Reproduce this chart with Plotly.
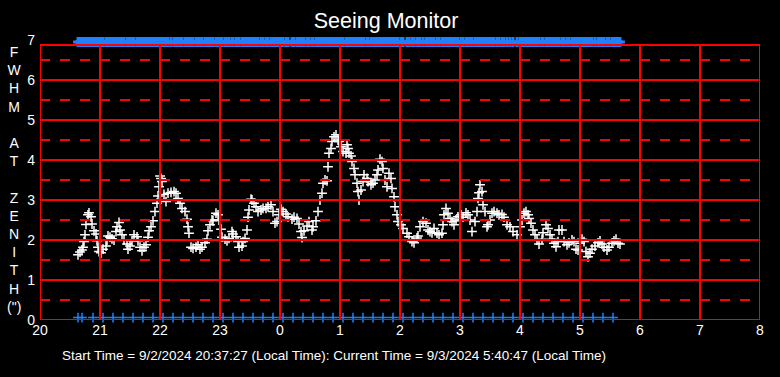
import plotly.graph_objects as go

# Minutes after 20:00 local time and FWHM values (arcsec)
minutes = [38, 40, 42, 43, 44, 45, 46, 48, 49, 51, 52, 54, 56, 57, 58, 59, 61, 63, 66, 67, 68, 70, 72, 74, 76, 77, 79, 80, 82, 84,
           87, 88, 90, 92, 94, 97, 98, 100, 102, 104, 106, 108, 109, 111, 113, 115, 117, 118, 119, 120, 121, 122, 124, 126, 128, 131, 134, 136, 138, 140,
           142, 145, 147, 148, 149, 151, 153, 156, 158, 160, 162, 165, 167, 168, 170, 172, 173, 176, 178, 179, 181, 182, 185, 187, 189, 192, 193, 196, 198, 199,
           202, 203, 205, 207, 208, 209, 211, 212, 214, 216, 218, 221, 223, 226, 228, 231, 233, 235, 237, 239, 241, 243, 246, 248, 252, 254, 257, 259, 261, 262,
           264, 267, 269, 272, 273, 276, 278, 280, 282, 283, 285, 287, 288, 289, 291, 292, 294, 296, 298, 299, 301, 303, 306, 307, 308, 309, 311, 312, 314, 315,
           317, 318, 319, 321, 323, 324, 327, 328, 331, 333, 335, 337, 338, 340, 342, 343, 345, 347, 349, 351, 352, 354, 355, 357, 358, 361, 363, 367, 369, 372,
           374, 377, 378, 380, 383, 386, 388, 390, 392, 394, 397, 399, 402, 403, 404, 406, 408, 410, 412, 414, 416, 418, 421, 423, 426, 428, 430, 432, 435, 437,
           438, 439, 440, 442, 443, 445, 447, 448, 450, 452, 454, 457, 459, 462, 464, 467, 470, 473, 477, 480, 482, 484, 486, 488, 489, 491, 493, 495, 497, 499,
           502, 503, 506, 508, 510, 512, 514, 516, 518, 519, 522, 524, 527, 529, 532, 534, 536, 538, 540, 542, 544, 546, 548, 550, 552, 555, 558, 560, 562, 564,
           567, 569, 572, 574, 576, 578, 580]
fwhm = [1.63, 1.70, 1.75, 1.82, 1.96, 2.13, 2.39, 2.63, 2.68, 2.58, 2.40, 2.23, 2.15, 1.98, 1.82, 1.71, 1.68, 1.77, 1.85, 2.00, 2.10, 2.07, 2.03, 2.00, 2.21, 2.33, 2.44, 2.25, 2.13, 2.00,
        1.90, 1.77, 1.85, 1.98, 2.13, 2.08, 1.98, 1.82, 1.73, 1.82, 1.88, 2.07, 2.23, 2.33, 2.48, 2.71, 2.92, 3.10, 3.33, 3.60, 3.54, 3.46, 3.14, 2.96, 3.17, 3.19, 3.21, 3.17, 3.04, 2.92,
        2.79, 2.71, 2.52, 2.33, 2.17, 1.82, 1.79, 1.82, 1.88, 1.77, 1.82, 1.93, 2.02, 2.23, 2.38, 2.50, 2.48, 2.67, 2.63, 2.50, 2.27, 2.07, 2.02, 1.98, 2.04, 2.21, 2.15, 2.08, 1.96, 1.82,
        1.85, 1.96, 2.04, 2.25, 2.57, 2.75, 3.02, 3.00, 2.92, 2.83, 2.71, 2.75, 2.79, 2.79, 2.83, 2.88, 2.71, 2.42, 2.46, 2.63, 2.77, 2.71, 2.65, 2.58, 2.52, 2.57, 2.54, 2.40, 2.21, 2.06,
        2.23, 2.35, 2.46, 2.25, 2.33, 2.48, 2.71, 3.00, 3.17, 3.42, 3.50, 3.48, 3.83, 4.17, 4.29, 4.46, 4.58, 4.63, 4.50, 4.46, 4.33, 4.21, 4.17, 4.38, 4.29, 4.17, 4.10, 3.96, 3.79, 3.63,
        3.42, 3.21, 3.00, 3.25, 3.46, 3.63, 3.54, 3.46, 3.38, 3.42, 3.50, 3.63, 3.75, 4.02, 3.96, 3.79, 3.50, 3.33, 3.67, 3.54, 3.29, 3.08, 2.83, 2.63, 2.46, 2.38, 2.29, 2.17, 2.08, 1.96,
        1.93, 2.05, 2.10, 2.33, 2.46, 2.42, 2.25, 2.21, 2.18, 2.29, 2.17, 2.13, 2.17, 2.38, 2.63, 2.79, 2.67, 2.54, 2.46, 2.38, 2.50, 2.58, 2.63, 2.57, 2.68, 2.63, 2.50, 2.21, 2.46, 2.71,
        3.04, 3.18, 3.38, 3.21, 2.88, 2.71, 2.33, 2.38, 2.50, 2.67, 2.71, 2.67, 2.63, 2.64, 2.57, 2.38, 2.33, 2.21, 2.13, 2.33, 2.50, 2.67, 2.71, 2.63, 2.54, 2.42, 2.25, 2.13, 2.00, 1.90,
        2.02, 2.18, 2.38, 2.29, 2.13, 2.02, 1.92, 1.83, 1.96, 2.25, 2.25, 1.96, 1.88, 1.93, 2.00, 1.96, 1.77, 1.75, 1.92, 2.02, 1.96, 1.71, 1.58, 1.67, 1.77, 1.85, 1.93, 1.98, 1.90, 1.82,
        1.75, 1.82, 1.92, 1.98, 2.02, 1.92, 1.90]

# Ten-minute status markers (minutes after 20:00)
status_minutes = [38, 42, 53, 63, 73, 83, 93, 103, 113, 123, 133, 143, 153, 163, 173, 183, 193, 203, 213, 223, 233, 243, 253, 263, 273,
                  283, 293, 303, 313, 323, 333, 343, 353, 363, 373, 383, 393, 403, 413, 423, 433, 443, 453, 463, 473, 483, 493, 503, 513, 523,
                  533, 543, 553, 563, 573]
top_level = 6.95
bottom_level = 0.06

tick_vals = [20, 21, 22, 23, 24, 25, 26, 27, 28, 29, 30, 31, 32]
tick_text = ["20", "21", "22", "23", "0", "1", "2", "3", "4", "5", "6", "7", "8"]
y_ticks = [0, 1, 2, 3, 4, 5, 6, 7]

hours = [20 + m / 60 for m in minutes]
status_hours = [20 + m / 60 for m in status_minutes]

RED = "#ff0000"
BLUE = "#1e82ff"
LW = 2
fig = go.Figure()

# grid shapes
shapes = []
frame_top = 6.875
for v in range(0, 7):
    shapes.append(dict(type="line", xref="x", yref="y", x0=20, x1=32, y0=v, y1=v, line=dict(color=RED, width=LW)))
shapes.append(dict(type="line", xref="x", yref="y", x0=20, x1=32, y0=frame_top, y1=frame_top, line=dict(color=RED, width=LW)))
for k in range(7):
    v = k + 0.5
    shapes.append(dict(type="line", xref="x", yref="y", x0=20, x1=32, y0=v, y1=v, line=dict(color=RED, width=LW, dash="10px,10px")))
for h in tick_vals:
    shapes.append(dict(type="line", xref="x", yref="y", x0=h, x1=h, y0=0, y1=frame_top, line=dict(color=RED, width=LW)))

fig.add_trace(go.Scatter(x=hours, y=[top_level] * len(hours), mode="markers",
                         marker=dict(symbol="cross-thin", size=7, line=dict(color=BLUE, width=3)),
                         hoverinfo="skip", cliponaxis=False))
fig.add_trace(go.Scatter(x=status_hours, y=[bottom_level] * len(status_hours), mode="markers",
                         marker=dict(symbol="cross-thin", size=7, line=dict(color=BLUE, width=1.5)),
                         hoverinfo="skip", cliponaxis=False))
fig.add_trace(go.Scatter(x=hours, y=fwhm, mode="markers",
                         marker=dict(symbol="cross-thin", size=7, line=dict(color="white", width=1.5))))

ylabel = "<br>".join(["F", "W", "H", "M", " ", "A", "T", " ", "Z", "E", "N", "I", "T", "H", "(\")"])

fig.update_layout(
    width=780, height=377,
    paper_bgcolor="black", plot_bgcolor="black",
    margin=dict(l=40, r=20, t=40, b=57),
    showlegend=False,
    font=dict(family="Liberation Sans, Arial", color="white", size=14),
    title=dict(text="Seeing Monitor", x=0.495, xanchor="center", y=0.945, yanchor="middle",
               font=dict(size=21.5, color="white", family="Liberation Sans, Arial")),
    xaxis=dict(range=[20, 32], tickvals=tick_vals, ticktext=tick_text, showgrid=False, zeroline=False,
               showline=False, ticks="", tickfont=dict(size=14, color="white")),
    yaxis=dict(range=[0, 7], tickvals=y_ticks, showgrid=False, zeroline=False, showline=False, ticks="",
               tickfont=dict(size=14, color="white"), ticklabelstandoff=4),
    shapes=shapes,
    annotations=[
        dict(text=ylabel, xref="paper", yref="paper", x=-0.035, y=0.5, xanchor="center", yanchor="middle",
             showarrow=False, font=dict(size=14, color="white"), align="center", yshift=1),
        dict(text="Start Time = 9/2/2024 20:37:27 (Local Time): Current Time = 9/3/2024 5:40:47 (Local Time)",
             xref="paper", yref="paper", x=0.408, y=0, yshift=-35, xanchor="center", yanchor="middle",
             showarrow=False, font=dict(size=13.5, color="white")),
    ],
)

fig.write_html("out.html", config={"displayModeBar": False},
               post_script="document.body.style.margin='0';document.body.style.overflow='hidden';")
